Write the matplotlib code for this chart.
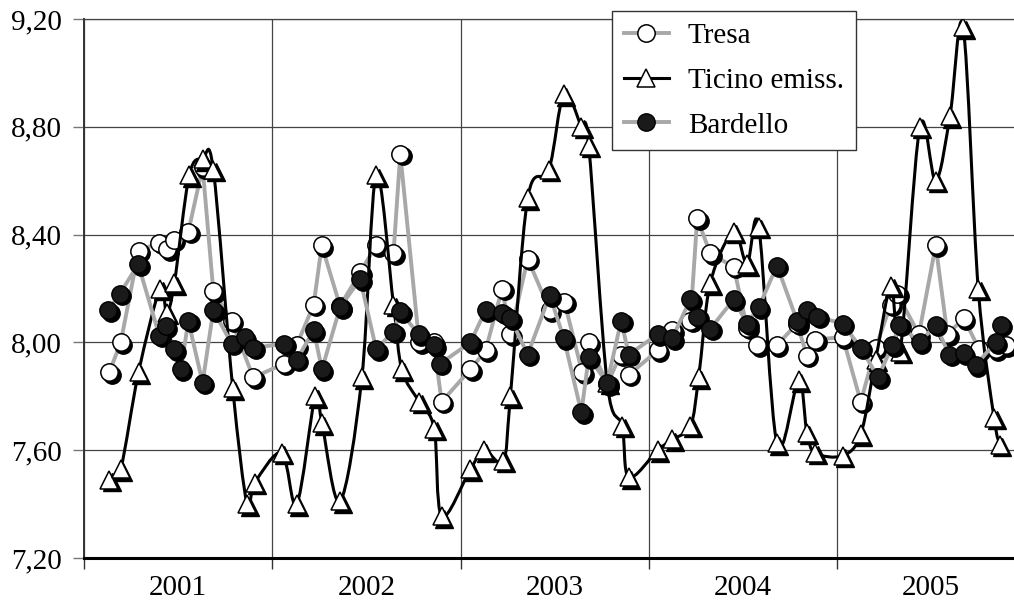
import numpy as np
import matplotlib
matplotlib.use("Agg")
import matplotlib.pyplot as plt
from matplotlib.path import Path
from matplotlib.patches import PathPatch
from matplotlib.lines import Line2D
from matplotlib.transforms import offset_copy

plt.rcParams['font.family'] = ['Liberation Serif', 'DejaVu Serif']

# sampling dates (decimal years) and values
tresa_t = [2001.135, 2001.195, 2001.29, 2001.40, 2001.442, 2001.478, 2001.554, 2001.63,
           2001.687, 2001.784, 2001.899, 2002.06, 2002.13, 2002.22, 2002.263, 2002.36,
           2002.467, 2002.552, 2002.644, 2002.68, 2002.78, 2002.857, 2002.90, 2003.053,
           2003.133, 2003.221, 2003.265, 2003.357, 2003.474, 2003.552, 2003.646, 2003.681,
           2003.779, 2003.85, 2003.894, 2004.048, 2004.124, 2004.221, 2004.257, 2004.327,
           2004.451, 2004.522, 2004.575, 2004.681, 2004.788, 2004.84, 2004.885, 2005.03,
           2005.126, 2005.205, 2005.285, 2005.32, 2005.435, 2005.524, 2005.586, 2005.674,
           2005.754, 2005.842, 2005.896]
tresa_v = [7.89, 8.00, 8.34, 8.37, 8.345, 8.38, 8.41, 8.65,
           8.19, 8.08, 7.87, 7.92, 7.99, 8.14, 8.36, 8.135,
           8.26, 8.36, 8.33, 8.70, 8.00, 8.00, 7.78, 7.90,
           7.97, 8.20, 8.03, 8.31, 8.12, 8.15, 7.89, 8.00,
           7.845, 7.955, 7.88, 7.97, 8.045, 8.08, 8.46, 8.33,
           8.28, 8.055, 7.99, 7.99, 8.07, 7.95, 8.01, 8.02,
           7.78, 7.98, 8.14, 8.18, 8.03, 8.36, 8.03, 8.09,
           7.975, 7.975, 7.99]

ticino_t = [2001.135, 2001.195, 2001.29, 2001.404, 2001.439, 2001.48, 2001.559, 2001.63,
            2001.687, 2001.79, 2001.866, 2001.908, 2002.05, 2002.13, 2002.228, 2002.264,
            2002.36, 2002.476, 2002.552, 2002.644, 2002.688, 2002.78, 2002.86, 2002.90,
            2003.053, 2003.124, 2003.227, 2003.265, 2003.357, 2003.469, 2003.549, 2003.642,
            2003.681, 2003.779, 2003.858, 2003.894, 2004.048, 2004.124, 2004.221, 2004.265,
            2004.327, 2004.451, 2004.522, 2004.584, 2004.681, 2004.796, 2004.84, 2004.885,
            2005.03, 2005.126, 2005.205, 2005.288, 2005.335, 2005.44, 2005.524, 2005.60,
            2005.67, 2005.75, 2005.834, 2005.865]
ticino_v = [7.49, 7.53, 7.89, 8.20, 8.11, 8.22, 8.62, 8.68,
            8.64, 7.83, 7.40, 7.48, 7.59, 7.40, 7.80, 7.70,
            7.41, 7.87, 8.62, 8.14, 7.90, 7.78, 7.68, 7.355,
            7.53, 7.60, 7.56, 7.80, 8.535, 8.64, 8.92, 8.80,
            8.73, 7.85, 7.69, 7.50, 7.60, 7.64, 7.69, 7.87,
            8.22, 8.41, 8.29, 8.43, 7.625, 7.86, 7.665, 7.59,
            7.58, 7.66, 7.935, 8.21, 7.965, 8.80, 8.60, 8.84,
            9.17, 8.20, 7.72, 7.62]

bard_t = [2001.129, 2001.19, 2001.288, 2001.40, 2001.435, 2001.48, 2001.515, 2001.554,
          2001.63, 2001.687, 2001.784, 2001.855, 2001.9, 2002.064, 2002.13, 2002.22,
          2002.264, 2002.36, 2002.467, 2002.552, 2002.644, 2002.68, 2002.777, 2002.86,
          2002.89, 2003.053, 2003.133, 2003.221, 2003.265, 2003.357, 2003.474, 2003.549,
          2003.642, 2003.681, 2003.779, 2003.853, 2003.894, 2004.048, 2004.124, 2004.221,
          2004.257, 2004.327, 2004.451, 2004.522, 2004.584, 2004.681, 2004.788, 2004.84,
          2004.894, 2005.03, 2005.126, 2005.218, 2005.294, 2005.33, 2005.44, 2005.524,
          2005.595, 2005.674, 2005.736, 2005.842, 2005.87]
bard_v = [8.12, 8.18, 8.29, 8.025, 8.06, 7.975, 7.90, 8.08,
          7.85, 8.12, 7.995, 8.02, 7.98, 7.995, 7.935, 8.045,
          7.90, 8.13, 8.235, 7.975, 8.04, 8.115, 8.03, 7.99,
          7.92, 8.00, 8.12, 8.11, 8.09, 7.955, 8.175, 8.015,
          7.74, 7.945, 7.85, 8.08, 7.955, 8.03, 8.015, 8.16,
          8.095, 8.05, 8.16, 8.07, 8.13, 8.285, 8.08, 8.12,
          8.095, 8.07, 7.98, 7.87, 7.99, 8.065, 8.00, 8.065,
          7.955, 7.96, 7.915, 8.00, 8.065]

years = [2001, 2002, 2003, 2004, 2005]
y_ticks = [7.2, 7.6, 8.0, 8.4, 8.8, 9.2]

GREY = '#a8a8a8'
FS = 21

fig = plt.figure(figsize=(10.14, 6.02), dpi=100)
ax = fig.add_axes([84 / 1014, 1 - 558 / 602, 930 / 1014, 539 / 602])

shadow = offset_copy(ax.transData, fig=fig, x=2.5, y=-2.5, units='dots')


def smooth_path(x, y):
    # Excel-like smoothed line: Catmull-Rom segments as cubic Bezier curves
    x = np.asarray(x); y = np.asarray(y)
    n = len(x)
    verts = [(x[0], y[0])]
    codes = [Path.MOVETO]
    for i in range(n - 1):
        p0 = i - 1 if i > 0 else i
        p3 = i + 2 if i + 2 < n else i + 1
        c1 = (x[i] + (x[i + 1] - x[p0]) / 6, y[i] + (y[i + 1] - y[p0]) / 6)
        c2 = (x[i + 1] - (x[p3] - x[i]) / 6, y[i + 1] - (y[p3] - y[i]) / 6)
        verts += [c1, c2, (x[i + 1], y[i + 1])]
        codes += [Path.CURVE4] * 3
    return Path(verts, codes)


# Tresa
ax.plot(tresa_t, tresa_v, color=GREY, lw=2.8, zorder=3)
ax.plot(tresa_t, tresa_v, 'o', ms=12.5, color='black', transform=shadow, zorder=3.1)
ax.plot(tresa_t, tresa_v, 'o', ms=12.5, mfc='white', mec='black', mew=1.1, zorder=3.2)

# Ticino emiss. (smoothed line)
ax.add_patch(PathPatch(smooth_path(ticino_t, ticino_v), fc='none', ec='black',
                       lw=2.2, zorder=4))
ax.plot(ticino_t, ticino_v, '^', ms=13, color='black', transform=shadow, zorder=4.1)
ax.plot(ticino_t, ticino_v, '^', ms=13, mfc='white', mec='black', mew=1.1, zorder=4.2)

# Bardello
ax.plot(bard_t, bard_v, color=GREY, lw=2.8, zorder=5)
ax.plot(bard_t, bard_v, 'o', ms=12.5, color='black', transform=shadow, zorder=5.1)
ax.plot(bard_t, bard_v, 'o', ms=12.5, color='#1a1a1a', mec='black', zorder=5.2)

ax.set_yticks(y_ticks)
ax.set_yticklabels([f"{v:.2f}".replace('.', ',') for v in y_ticks], fontsize=FS)
ax.tick_params(axis='y', length=8, width=1, color='#777777', pad=8)

ax.set_xticks(years)
ax.set_xticklabels([])
ax.set_xticks([y + 0.5 for y in years], minor=True)
ax.set_xticklabels([str(y) for y in years], minor=True, fontsize=FS)
ax.tick_params(axis='x', which='major', length=8, width=1, color='#333333')
ax.tick_params(axis='x', which='minor', length=0, pad=12)

ax.set_xlim(2001, 2005.94)
ax.set_ylim(7.2, 9.2)

ax.grid(True, which='major', color='#444444', lw=0.9, zorder=0)
ax.set_axisbelow(True)

ax.spines['right'].set_visible(False)
ax.spines['top'].set_color('#444444')
ax.spines['top'].set_linewidth(0.9)
ax.spines['left'].set_color('#333333')
ax.spines['left'].set_linewidth(1.4)
ax.spines['bottom'].set_color('black')
ax.spines['bottom'].set_linewidth(2.2)

handles = [
    Line2D([], [], color=GREY, lw=2.8, marker='o', ms=12.5, mfc='white', mec='black', mew=1.1),
    Line2D([], [], color='black', lw=2.2, marker='^', ms=13, mfc='white', mec='black', mew=1.1),
    Line2D([], [], color=GREY, lw=2.8, marker='o', ms=12.5, mfc='#1a1a1a', mec='black'),
]
leg = fig.legend(handles, ['Tresa', 'Ticino emiss.', 'Bardello'], loc='upper left',
                 bbox_to_anchor=(612 / 1014, 1 - 11 / 602), fontsize=FS, frameon=True,
                 fancybox=False, edgecolor='#333333', framealpha=1, borderpad=0.4,
                 labelspacing=0.63, handlelength=1.55, handletextpad=0.65, borderaxespad=0)
leg.get_frame().set_linewidth(1.0)
leg.set_zorder(10)

fig.savefig('out.png', dpi=100)
